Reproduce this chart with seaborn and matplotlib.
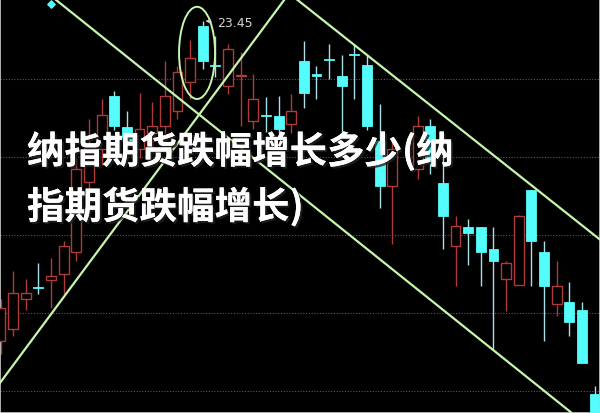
import matplotlib
matplotlib.use("Agg")
import matplotlib.pyplot as plt
import matplotlib.patheffects as pe
from matplotlib.patches import Ellipse
import numpy as np
import pandas as pd
import seaborn as sns

# candle values (index 32 hidden behind the title)
opens = [21.40, 21.48, 21.67, 21.745, 21.79, 21.83, 21.97, 22.42, 22.63, 22.97,
         22.77, 22.63, 22.73, 22.78, 22.87, 23.06, 23.42, 23.165, 23.03, 23.10,
         22.81, 22.845, 22.84, 22.79, 23.19, 23.105, 23.205, 23.10, 23.235, 23.17,
         22.68, 22.39, np.nan, 22.50, 22.78, 22.41, 22.01, 22.13, 22.13, 21.99,
         21.80, 21.76, 22.37, 21.97, 21.64, 21.65, 21.60, 21.06]
highs = [21.67, 21.85, 21.80, 21.90, 21.93, 22.04, 22.57, 22.82, 22.95, 23.00,
         22.87, 22.99, 22.93, 23.19, 23.16, 23.33, 23.45, 23.35, 23.30, 23.25,
         23.11, 22.96, 22.97, 22.98, 23.32, 23.16, 23.30, 23.23, 23.30, 23.23,
         22.92, 22.69, np.nan, 22.84, 22.82, 22.63, 22.20, 22.18, 22.13, 22.13,
         21.91, 22.21, 22.37, 22.04, 21.91, 21.78, 21.65, 21.11]
lows = [21.32, 21.43, 21.60, 21.70, 21.61, 21.70, 21.91, 22.27, 22.53, 22.75,
        22.60, 22.57, 22.63, 22.73, 22.82, 22.95, 23.14, 23.09, 22.98, 22.78,
        22.76, 22.74, 22.71, 22.73, 22.89, 22.95, 23.08, 22.74, 22.95, 22.75,
        22.25, 22.02, np.nan, 22.44, 22.47, 21.99, 21.75, 21.89, 21.75, 21.35,
        21.59, 21.76, 21.75, 21.40, 21.56, 21.43, 21.26, 20.90]
closes = [21.61, 21.71, 21.71, 21.74, 21.82, 22.01, 22.50, 22.65, 22.85, 22.78,
          22.69, 22.76, 22.78, 22.97, 23.12, 23.21, 23.19, 23.16, 23.27, 23.10,
          22.95, 22.84, 22.76, 22.87, 22.99, 23.10, 23.20, 23.03, 23.23, 22.78,
          22.39, 22.63, np.nan, 22.78, 22.55, 22.20, 22.14, 22.09, 21.97, 21.91,
          21.90, 22.20, 22.04, 21.75, 21.75, 21.52, 21.26, 20.90]

grid_levels = [23.08, 22.58, 22.08, 21.58, 21.08]

# hand-drawn trend lines (index, price)
trend_a_x = [4.3, 45.2]
trend_a_y = [23.59, 20.94]
trend_b_x = [22.5, -0.43]
trend_b_y = [23.59, 21.09]
trend_c_x = [23.4, 47.43]
trend_c_y = [23.59, 22.05]

high_label = "23.45"
high_idx = 16
title_lines = ["纳指期货跌幅增长多少(纳", "指期货跌幅增长)"]

df = pd.DataFrame({"open": opens, "high": highs, "low": lows, "close": closes})
df["idx"] = np.arange(len(df))
df = df.dropna()
df["up"] = df["close"] >= df["open"]

sns.set_theme(style="dark", rc={"axes.facecolor": "black", "figure.facecolor": "black"})
plt.rcParams["font.family"] = ["Noto Sans CJK SC", "DejaVu Sans"]

fig = plt.figure(figsize=(6, 4.14), dpi=100)
ax = fig.add_axes([0, 0, 1, 1])
ax.set_facecolor("black")

red = "#b03a3a"
cyan = "#54fcfc"
cyan_wick = "#a9dfe6"
green = "#c6f5ad"

for lvl in grid_levels:
    ax.axhline(lvl, color="#705050", lw=0.8, ls=(0, (1, 1.5)), zorder=1)

up = df[df["up"]]
down = df[~df["up"]]

# wicks
ax.vlines(up["idx"], up["low"], up["high"], color=red, lw=1, zorder=2)
ax.vlines(down["idx"], down["low"], down["high"], color=cyan_wick, lw=1, zorder=2)

# bodies
w = 0.78
up_h = np.maximum(up["close"] - up["open"], 0.006)
ax.bar(up["idx"], up_h, bottom=up["open"], width=w, facecolor="black",
       edgecolor=red, lw=1, zorder=3)
down_h = np.maximum(down["open"] - down["close"], 0.008)
ax.bar(down["idx"], down_h, bottom=down["close"], width=w, facecolor=cyan,
       edgecolor=cyan, lw=0.6, zorder=3)

# trend lines
for tx, ty in [(trend_a_x, trend_a_y), (trend_b_x, trend_b_y), (trend_c_x, trend_c_y)]:
    sns.lineplot(x=tx, y=ty, ax=ax, color=green, lw=1.6, sort=False, zorder=4)

# ellipse round the top
ax.add_patch(Ellipse((15.55, 23.245), 2.85, 0.59, fill=False, edgecolor=green, lw=1.4, zorder=4))

# high price marker
ax.annotate(high_label, xy=(high_idx, highs[high_idx]), xytext=(high_idx + 1.15, highs[high_idx] - 0.01),
            color="#d4d4d4", fontsize=9, va="center", family=["DejaVu Sans"],
            arrowprops=dict(arrowstyle="-|>", color="#d4d4d4", lw=0.8, mutation_scale=6), zorder=5)

ax.scatter([4.0], [23.56], marker="D", s=14, color=cyan, zorder=5)

ax.set_xlim(-0.04, 47.43)
ax.set_ylim(20.94, 23.59)
ax.set_xticks([])
ax.set_yticks([])
for s in ax.spines.values():
    s.set_color("#d0d0d0")
    s.set_linewidth(1.2)

shadow = [pe.withSimplePatchShadow(offset=(1.5, -1.5), shadow_rgbFace="#222222", alpha=0.8), pe.Normal()]
ax.text(0.045, 0.632, title_lines[0], transform=ax.transAxes, color="white", fontsize=27,
        fontweight="bold", va="center", ha="left", path_effects=shadow, zorder=6)
ax.text(0.045, 0.498, title_lines[1], transform=ax.transAxes, color="white", fontsize=27,
        fontweight="bold", va="center", ha="left", path_effects=shadow, zorder=6)

fig.savefig("out.png", dpi=100, facecolor="black")
